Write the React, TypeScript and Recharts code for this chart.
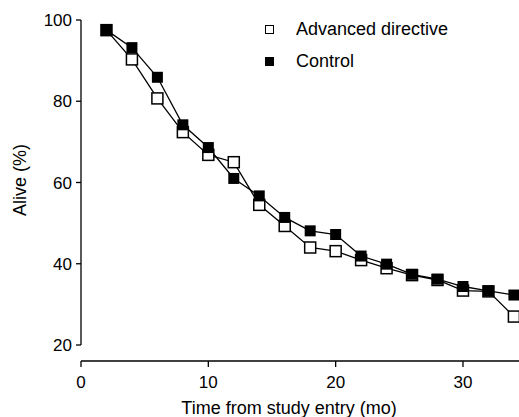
import { LineChart, Line, XAxis, YAxis, Legend, ReferenceLine } from "recharts";

const months = [2, 4, 6, 8, 10, 12, 14, 16, 18, 20, 22, 24, 26, 28, 30, 32, 34];
const advancedDirective = [97.5, 90.3, 80.7, 72.4, 66.8, 65.0, 54.5, 49.3, 44.0, 43.1, 40.9, 38.9, 37.2, 36.0, 33.4, 33.2, 27.0];
const control = [97.5, 93.2, 85.9, 74.2, 68.6, 61.0, 56.7, 51.4, 48.1, 47.2, 41.9, 39.9, 37.4, 36.2, 34.4, 33.3, 32.3];
const xTicks = [0, 10, 20, 30];
const yTicks = [20, 40, 60, 80, 100];

const font = "'Liberation Sans', Arial, Helvetica, sans-serif";

const data = months.map((m, i) => ({
  month: m,
  advanced: advancedDirective[i],
  control: control[i],
}));

const square = (filled: boolean) => (props: any) => {
  const { cx, cy, index } = props;
  const s = 11;
  if (cx == null || cy == null) return <g key={index} />;
  return (
    <rect
      key={index}
      x={cx - s / 2}
      y={cy - s / 2}
      width={s}
      height={s}
      fill={filled ? "#000" : "#fff"}
      stroke="#000"
      strokeWidth={filled ? 0 : 1.5}
    />
  );
};

const legendItems = [
  { label: "Advanced directive", filled: false },
  { label: "Control", filled: true },
];

const renderLegend = () => (
  <div style={{ fontFamily: font, fontSize: 18, color: "#000" }}>
    {legendItems.map((it) => (
      <div key={it.label} style={{ display: "flex", alignItems: "center", height: 32 }}>
        <span
          style={{
            display: "inline-block",
            width: it.filled ? 9 : 7,
            height: it.filled ? 9 : 7,
            background: it.filled ? "#000" : "#fff",
            border: it.filled ? "none" : "1.5px solid #000",
            marginRight: 22,
          }}
        />
        <span>{it.label}</span>
      </div>
    ))}
  </div>
);

export default function App() {
  return (
    <div style={{ position: "absolute", left: 0, top: 0, background: "#fff" }}>
      <LineChart
        width={519}
        height={417}
        data={data}
        margin={{ top: 20, right: 0, bottom: 0, left: 0 }}
      >
        <XAxis
          dataKey="month"
          type="number"
          domain={[0, 34.4]}
          ticks={xTicks}
          allowDataOverflow
          height={56}
          axisLine={{ stroke: "#000", strokeWidth: 1.3 }}
          tickLine={{ stroke: "#000", strokeWidth: 1.3 }}
          tickSize={6}
          tickMargin={9}
          tick={{ fill: "#000", fontSize: 17, fontFamily: font }}
          label={() => (
            <text x={289} y={414} textAnchor="middle" fontSize={18} fontFamily={font} fill="#000">
              Time from study entry (mo)
            </text>
          )}
        />
        <YAxis
          domain={[20, 100]}
          ticks={yTicks}
          width={81}
          padding={{ top: 0, bottom: 16 }}
          axisLine={false}
          tickLine={{ stroke: "#000", strokeWidth: 1.3 }}
          tickSize={5}
          tickMargin={4}
          tick={{ fill: "#000", fontSize: 17, fontFamily: font }}
          label={() => (
            <text
              transform="translate(20,180) rotate(-90)"
              textAnchor="middle"
              dominantBaseline="central"
              fontSize={18}
              fontFamily={font}
              fill="#000"
            >
              Alive (%)
            </text>
          )}
        />
        <ReferenceLine
          segment={[{ x: 0, y: 20 }, { x: 0, y: 100 }]}
          stroke="#000"
          strokeWidth={1.3}
          ifOverflow="extendDomain"
        />
        <Legend
          layout="vertical"
          align="center"
          verticalAlign="middle"
          content={renderLegend}
          wrapperStyle={{ top: 13, left: 265, width: 220 }}
        />
        <Line
          dataKey="advanced"
          name="Advanced directive"
          stroke="#000"
          strokeWidth={1.3}
          dot={square(false)}
          activeDot={false}
          isAnimationActive={false}
        />
        <Line
          dataKey="control"
          name="Control"
          stroke="#000"
          strokeWidth={1.3}
          dot={square(true)}
          activeDot={false}
          isAnimationActive={false}
        />
      </LineChart>
    </div>
  );
}
